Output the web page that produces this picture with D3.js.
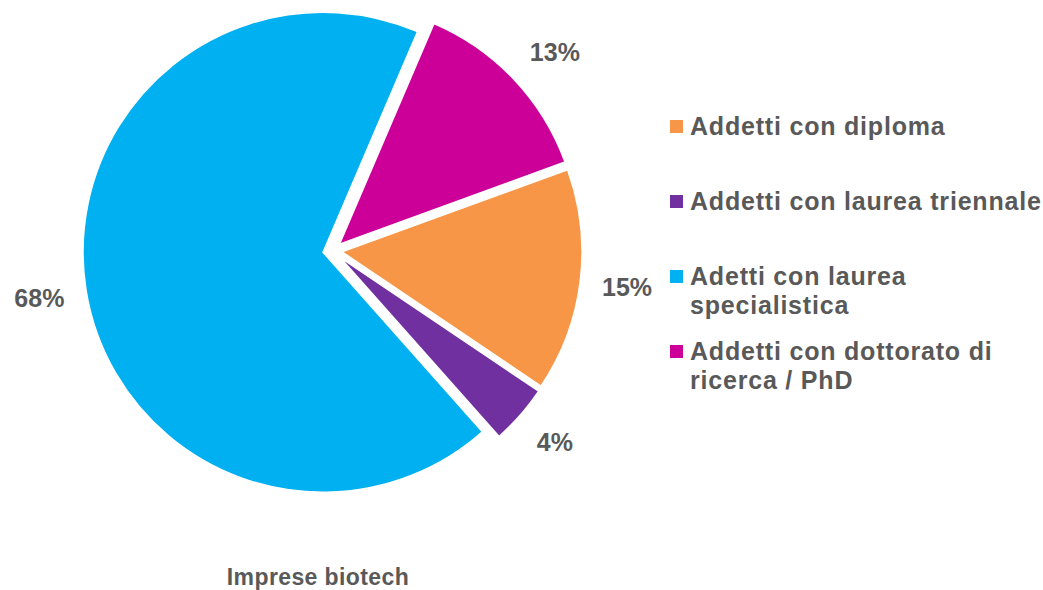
<!DOCTYPE html>
<html>
<head>
<meta charset="utf-8">
<script src="https://cdn.jsdelivr.net/npm/d3@7"></script>
<style>
body { margin: 0; background: #fff; }
text { font-family: "Liberation Sans", Arial, sans-serif; font-weight: bold; fill: #595959; }
</style>
</head>
<body>
<script>
var width = 1043,
    height = 590;

// dati
var categories = ["Addetti con diploma", "Addetti con laurea triennale", "Adetti con laurea specialistica", "Addetti con dottorato di ricerca / PhD"];
var values = [15, 4, 68, 13];
var colors = ["#F79646", "#7030A0", "#00B0F0", "#CC0099"];
var legendLines = [["Addetti con diploma"], ["Addetti con laurea triennale"], ["Adetti con laurea", "specialistica"], ["Addetti con dottorato di", "ricerca / PhD"]];
var title = "Imprese biotech";

var cx = 332.5, cy = 250.7, radius = 240, explode = 9.6, labelGap = 22;
var startDeg = 70;

var svg = d3.select("body").append("svg")
    .attr("width", width)
    .attr("height", height);

var pie = d3.pie()
    .sort(null)
    .value(function (d) { return d; })
    .startAngle(startDeg * Math.PI / 180)
    .endAngle(startDeg * Math.PI / 180 + 2 * Math.PI);

var arc = d3.arc().innerRadius(0).outerRadius(radius);

var arcs = pie(values);

var g = svg.append("g").attr("transform", "translate(" + cx + "," + cy + ")");

function mid(d) { return (d.startAngle + d.endAngle) / 2; }

g.selectAll("path.slice")
    .data(arcs)
    .enter().append("path")
    .attr("class", "slice")
    .attr("d", arc)
    .attr("fill", function (d, i) { return colors[i]; })
    .attr("stroke", "#fff")
    .attr("stroke-width", 1.5)
    .attr("transform", function (d) {
        var a = mid(d);
        return "translate(" + (Math.sin(a) * explode) + "," + (-Math.cos(a) * explode) + ")";
    });

// etichette percentuali (fuori dal bordo, come in Excel)
g.selectAll("text.lab")
    .data(arcs)
    .enter().append("text")
    .attr("class", "lab")
    .attr("text-anchor", "middle")
    .attr("dy", "0.36em")
    .style("font-size", "25px")
    .text(function (d) { return d.value + "%"; })
    .each(function (d) {
        var a = mid(d);
        var ux = Math.sin(a), uy = -Math.cos(a);
        var w = this.getComputedTextLength(), h = 24;
        var r = explode + radius + labelGap;
        var px = ux * r, py = uy * r;
        var ox = Math.max(-1, Math.min(1, ux * 2)) * w / 2;
        var oy = Math.max(-1, Math.min(1, uy * 2)) * h / 2;
        d3.select(this).attr("x", px + ox).attr("y", py + oy);
    });

// legenda
var legendTop = [135, 210, 285, 360];
var legend = svg.append("g");
legendLines.forEach(function (lines, i) {
    legend.append("rect")
        .attr("x", 670)
        .attr("y", legendTop[i] - 15)
        .attr("width", 13)
        .attr("height", 13)
        .attr("fill", colors[i]);
    lines.forEach(function (t, j) {
        legend.append("text")
            .attr("x", 690)
            .attr("y", legendTop[i] + j * 29)
            .style("font-size", "25px")
            .style("letter-spacing", "0.8px")
            .text(t);
    });
});

svg.append("text")
    .attr("x", 318)
    .attr("y", 585)
    .attr("text-anchor", "middle")
    .style("font-size", "23px")
    .style("letter-spacing", "0.4px")
    .text(title);
</script>
</body>
</html>
